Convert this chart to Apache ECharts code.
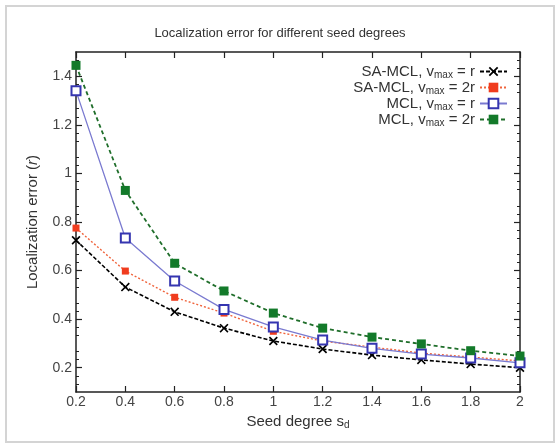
<!DOCTYPE html>
<html><head><meta charset="utf-8">
<script src="https://cdn.jsdelivr.net/npm/echarts@6/dist/echarts.min.js"></script>
<style>html,body{margin:0;padding:0;background:#fff}#c{width:560px;height:448px}</style>
</head><body><div id="c"></div>
<script>
const xValues = [0.2, 0.4, 0.6, 0.8, 1.0, 1.2, 1.4, 1.6, 1.8, 2.0];
const saMclR  = [0.725, 0.532, 0.43, 0.363, 0.31, 0.277, 0.252, 0.232, 0.215, 0.2];
const saMcl2R = [0.775, 0.598, 0.49, 0.425, 0.35, 0.31, 0.285, 0.26, 0.244, 0.228];
const mclR    = [1.34, 0.734, 0.557, 0.44, 0.368, 0.314, 0.28, 0.256, 0.24, 0.22];
const mcl2R   = [1.445, 0.93, 0.63, 0.516, 0.425, 0.363, 0.326, 0.298, 0.27, 0.248];
const yTicks = [0.2, 0.4, 0.6, 0.8, 1.0, 1.2, 1.4];
const seriesNames = ['SA-MCL r', 'SA-MCL 2r', 'MCL r', 'MCL 2r'];
const legendLabels = {
  'SA-MCL r':  ['SA-MCL, v', 'max', ' = r'],
  'SA-MCL 2r': ['SA-MCL, v', 'max', ' = 2r'],
  'MCL r':     ['MCL, v', 'max', ' = r'],
  'MCL 2r':    ['MCL, v', 'max', ' = 2r']
};

const FONT = 'Liberation Sans, Arial, sans-serif';
const pair = arr => xValues.map((x, i) => [x, arr[i]]);
const xMark = 'path://M0,1.3 L1.3,0 L5,3.7 L8.7,0 L10,1.3 L6.3,5 L10,8.7 L8.7,10 L5,6.3 L1.3,10 L0,8.7 L3.7,5 Z';

const chart = echarts.init(document.getElementById('c'), null, {renderer: 'canvas'});
const fmtNum = v => String(Math.round(v * 10) / 10);
const axisCommon = {
  axisLine: {show: true, onZero: false, lineStyle: {color: '#222', width: 1.5}},
  splitLine: {show: false}
};
const subRich = {
  a: {fontFamily: FONT, fontSize: 15, color: '#333', lineHeight: 17},
  s: {fontFamily: FONT, fontSize: 10, color: '#333', lineHeight: 7, verticalAlign: 'bottom'},
  i: {fontFamily: FONT, fontSize: 15, color: '#333', lineHeight: 17, fontStyle: 'italic'}
};
chart.setOption({
  backgroundColor: '#fff',
  animation: false,
  graphic: [{
    type: 'rect', silent: true,
    shape: {x: 6, y: 6, width: 548, height: 436},
    style: {fill: 'none', stroke: '#d4d4d4', lineWidth: 2}
  }],
  title: {
    text: 'Localization error for different seed degrees',
    left: 'center', top: 22,
    textStyle: {fontFamily: FONT, fontSize: 13, fontWeight: 'normal', color: '#333'}
  },
  grid: {left: 76, right: 40, top: 52, bottom: 56, show: false},
  legend: {
    data: seriesNames,
    orient: 'vertical', right: 47, top: 59,
    align: 'right', itemWidth: 27, itemHeight: 12, itemGap: 0,
    formatter: n => {
      const p = legendLabels[n];
      return '{a|' + p[0] + '}{s|' + p[1] + '}{a|' + p[2] + '}';
    },
    textStyle: {fontFamily: FONT, fontSize: 15, color: '#333', rich: subRich}
  },
  xAxis: [{
    type: 'value', min: 0.2, max: 2, interval: 0.2, position: 'bottom',
    name: '{a|Seed degree s}{s|d}', nameLocation: 'middle', nameGap: 16,
    nameTextStyle: {rich: subRich},
    ...axisCommon,
    axisTick: {show: true, inside: true, length: 6, lineStyle: {color: '#222', width: 1.2}},
    axisLabel: {fontFamily: FONT, fontSize: 14, color: '#444', margin: 3, formatter: fmtNum}
  }, {
    type: 'value', min: 0.2, max: 2, interval: 0.2, position: 'top',
    ...axisCommon,
    axisTick: {show: true, inside: true, length: 6, lineStyle: {color: '#222', width: 1.2}},
    axisLabel: {show: false}
  }],
  yAxis: [{
    type: 'value', min: 0.1, max: 1.5, interval: 0.1, position: 'left',
    name: '{a|Localization error (}{i|r}{a|)}', nameLocation: 'middle', nameGap: 35, nameRotate: 90,
    nameTextStyle: {rich: subRich},
    ...axisCommon,
    axisTick: {show: true, inside: true, length: 6, customValues: yTicks, lineStyle: {color: '#222', width: 1.2}},
    minorTick: {show: true, splitNumber: 3, length: 3, lineStyle: {color: '#222', width: 1}},
    axisLabel: {fontFamily: FONT, fontSize: 14, color: '#444', margin: 4, customValues: yTicks, formatter: fmtNum}
  }, {
    type: 'value', min: 0.1, max: 1.5, interval: 0.1, position: 'right',
    ...axisCommon,
    axisTick: {show: true, inside: true, length: 6, customValues: yTicks, lineStyle: {color: '#222', width: 1.2}},
    minorTick: {show: true, splitNumber: 3, length: 3, lineStyle: {color: '#222', width: 1}},
    axisLabel: {show: false}
  }],
  series: [{
    name: 'SA-MCL r', type: 'line', data: pair(saMclR),
    symbol: xMark, symbolSize: 9,
    itemStyle: {color: '#000'},
    lineStyle: {color: '#000', width: 1.6, type: [4, 2]}
  }, {
    name: 'SA-MCL 2r', type: 'line', data: pair(saMcl2R),
    symbol: 'rect', symbolSize: 7,
    itemStyle: {color: '#f03c1e'},
    lineStyle: {color: '#f0643c', width: 1.4, type: [2, 2]}
  }, {
    name: 'MCL r', type: 'line', data: pair(mclR),
    symbol: 'emptyRect', symbolSize: 9,
    itemStyle: {color: '#3535b0', borderColor: '#3535b0', borderWidth: 1.5},
    lineStyle: {color: '#7a7ad0', width: 1.3, type: 'solid'}
  }, {
    name: 'MCL 2r', type: 'line', data: pair(mcl2R),
    symbol: 'rect', symbolSize: 9,
    itemStyle: {color: '#137a2a'},
    lineStyle: {color: '#1f6e2a', width: 1.8, type: [4, 3]}
  }]
});
</script></body></html>
